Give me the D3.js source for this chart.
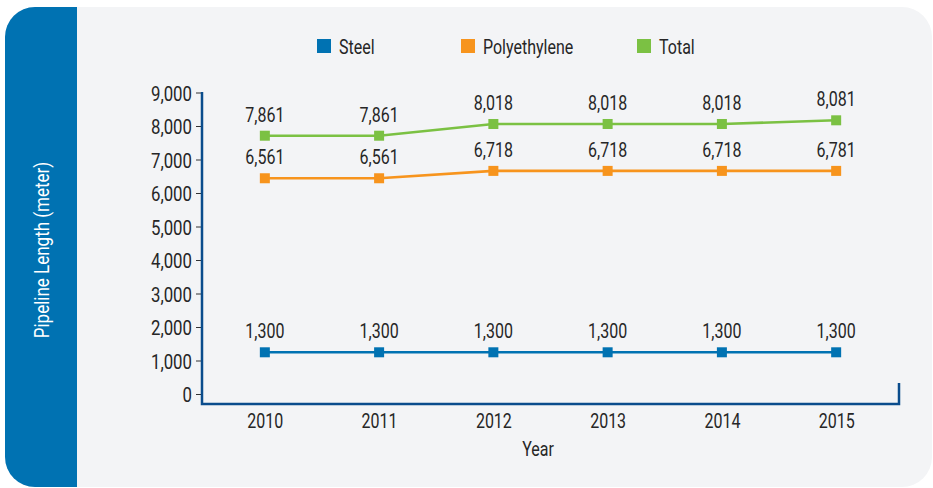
<!DOCTYPE html>
<html lang="en">
<head>
<meta charset="utf-8">
<title>Pipeline Length</title>
<style>
  body { margin: 0; background: #fff; }
  svg text { font-family: Roboto, "Noto Sans", sans-serif; fill: #262626; }
</style>
</head>
<body>
<svg width="933" height="488"></svg>
<script src="https://cdn.jsdelivr.net/npm/d3@7"></script>
<script>

    var years = ["2010", "2011", "2012", "2013", "2014", "2015"];
    var seriesNames = ["Steel", "Polyethylene", "Total"];
    var seriesColors = ["#0072b2", "#f7941d", "#7bc143"];

    // plotted positions
    var steel = [1245, 1245, 1245, 1245, 1245, 1245];
    var poly = [6440, 6440, 6660, 6660, 6660, 6660];
    var total = [7710, 7710, 8060, 8060, 8060, 8170];

    // printed labels
    var steelLabels = ["1,300", "1,300", "1,300", "1,300", "1,300", "1,300"];
    var polyLabels = ["6,561", "6,561", "6,718", "6,718", "6,718", "6,781"];
    var totalLabels = ["7,861", "7,861", "8,018", "8,018", "8,018", "8,081"];

    var yTicks = [0, 1000, 2000, 3000, 4000, 5000, 6000, 7000, 8000, 9000];

    var svg = d3.select("svg");

    var series = [
        { name: seriesNames[0], color: seriesColors[0], values: steel, labels: steelLabels },
        { name: seriesNames[1], color: seriesColors[1], values: poly, labels: polyLabels },
        { name: seriesNames[2], color: seriesColors[2], values: total, labels: totalLabels }
    ];

    // panel
    svg.append("clipPath").attr("id", "panel")
        .append("rect").attr("x", 5).attr("y", 7).attr("width", 927).attr("height", 480).attr("rx", 30);
    var panel = svg.append("g").attr("clip-path", "url(#panel)");
    panel.append("rect").attr("x", 0).attr("y", 0).attr("width", 933).attr("height", 488).attr("fill", "#f3f4f6");
    panel.append("rect").attr("x", 0).attr("y", 0).attr("width", 77).attr("height", 488).attr("fill", "#0072b2");

    var yTitle = svg.append("text")
        .attr("class", "ytitle")
        .attr("transform", "translate(49,250) rotate(-90)")
        .attr("text-anchor", "middle")
        .style("fill", "#fff")
        .style("font-size", "20px")
        .text("Pipeline Length (meter)");

    var x = d3.scalePoint().domain(years).range([202, 899]).padding(0.55);
    var y = d3.scaleLinear().domain([0, 9000]).range([394, 92.5]);

    // y axis ticks
    var yAxis = svg.append("g")
        .attr("transform", "translate(201,0)")
        .call(d3.axisLeft(y).tickValues(yTicks).tickSize(5).tickPadding(4).tickFormat(d3.format(",")));
    yAxis.select(".domain").remove();
    yAxis.selectAll("line").attr("stroke", "#333");
    yAxis.selectAll("text").style("font-size", "21px").attr("dy", "0.36em").attr("fill", null);

    // x axis labels
    var xAxis = svg.append("g")
        .attr("transform", "translate(0,404)")
        .call(d3.axisBottom(x).tickSize(0).tickPadding(10));
    xAxis.select(".domain").remove();
    xAxis.selectAll("text").style("font-size", "20px").attr("fill", null);

    // axis frame
    svg.append("path")
        .attr("d", "M202,92V404H899V383")
        .attr("fill", "none")
        .attr("stroke", "#0a4c8c")
        .attr("stroke-width", 2.5);

    svg.append("text")
        .attr("x", 538).attr("y", 456)
        .attr("text-anchor", "middle")
        .style("font-size", "20px")
        .text("Year");

    var line = d3.line()
        .x(function(d, i) { return x(years[i]); })
        .y(function(d) { return y(d); });

    series.forEach(function(s) {
        var g = svg.append("g");
        g.append("path")
            .attr("d", line(s.values))
            .attr("fill", "none")
            .attr("stroke", s.color)
            .attr("stroke-width", 2.6);
        g.selectAll("rect").data(s.values).enter().append("rect")
            .attr("x", function(d, i) { return x(years[i]) - 5; })
            .attr("y", function(d) { return y(d) - 5; })
            .attr("width", 10).attr("height", 10)
            .attr("fill", s.color);
        g.selectAll("text").data(s.values).enter().append("text")
            .attr("x", function(d, i) { return x(years[i]); })
            .attr("y", function(d) { return y(d) - 14; })
            .attr("text-anchor", "middle")
            .style("font-size", "20px")
            .text(function(d, i) { return s.labels[i]; });
    });

    // legend
    var legendX = [317, 461, 637];
    var legend = svg.selectAll(".legend").data(series).enter().append("g")
        .attr("transform", function(d, i) { return "translate(" + legendX[i] + ",39)"; });
    legend.append("rect").attr("width", 14).attr("height", 14).attr("fill", function(d) { return d.color; });
    legend.append("text")
        .attr("x", 22).attr("y", 14.5)
        .style("font-size", "20px")
        .text(function(d) { return d.name; });

    // condensed look: squeeze every label horizontally
    svg.selectAll("text").each(function() {
        var w = this.getComputedTextLength();
        var f = this.getAttribute("class") === "ytitle" ? 0.85 : 0.8;
        d3.select(this).attr("textLength", w * f).attr("lengthAdjust", "spacingAndGlyphs");
    });

</script>
</body>
</html>
